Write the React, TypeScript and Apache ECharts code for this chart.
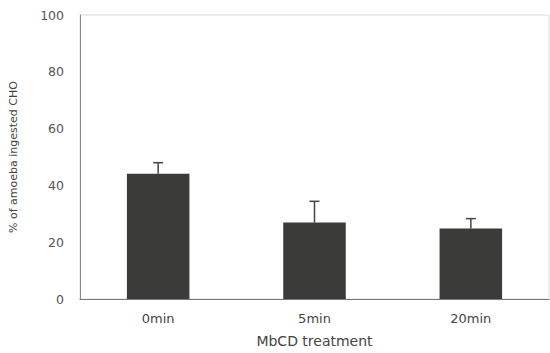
import React, { useEffect, useRef } from "react";
import * as echarts from "echarts";

const categories = ["0min", "5min", "20min"];
const values = [44.1, 26.9, 24.8];
const errorTops = [48.0, 34.4, 28.3];
const yTicks = [0, 20, 40, 60, 80, 100];

export default function App() {
  const ref = useRef<HTMLDivElement>(null);
  useEffect(() => {
    const chart = echarts.init(ref.current!, null, { renderer: "svg" });
    const font = "DejaVu Sans";
    chart.setOption({
      animation: false,
      backgroundColor: "#ffffff",
      grid: {
        left: 79,
        right: 1,
        top: 15,
        bottom: 52,
        show: true,
        borderColor: "#dcdcdc",
        borderWidth: 1,
        backgroundColor: "transparent",
      },
      xAxis: {
        type: "category",
        data: categories,
        name: "MbCD treatment",
        nameLocation: "middle",
        nameGap: 35,
        nameTextStyle: { fontFamily: font, fontSize: 14, color: "#444" },
        axisLine: { lineStyle: { color: "#777", width: 1 } },
        axisTick: { show: false },
        axisLabel: { fontFamily: font, fontSize: 13, color: "#444", margin: 13 },
      },
      yAxis: {
        type: "value",
        min: 0,
        max: 100,
        interval: 20,
        name: "% of amoeba ingested CHO",
        nameLocation: "middle",
        nameGap: 61,
        nameTextStyle: { fontFamily: font, fontSize: 11, color: "#444" },
        axisLine: { show: true, lineStyle: { color: "#888", width: 1 } },
        axisTick: { show: false },
        splitLine: { show: false },
        axisLabel: {
          fontFamily: font,
          fontSize: 12.5,
          color: "#555",
          margin: 16,
          formatter: (v: number) => (yTicks.includes(v) ? String(v) : ""),
        },
      },
      series: [
        {
          type: "bar",
          data: values,
          barWidth: "40%",
          itemStyle: { color: "#3b3b39" },
          z: 2,
        },
        {
          type: "custom",
          z: 1,
          data: categories.map((c, i) => [i, values[i], errorTops[i]]),
          renderItem: (params: any, api: any) => {
            const x = api.coord([api.value(0), 0])[0];
            const yLow = api.coord([api.value(0), api.value(1)])[1];
            const yHigh = api.coord([api.value(0), api.value(2)])[1];
            const style = { stroke: "#444", lineWidth: 1.5 };
            return {
              type: "group",
              children: [
                { type: "line", shape: { x1: x, y1: yLow, x2: x, y2: yHigh }, style },
                { type: "line", shape: { x1: x - 5, y1: yHigh, x2: x + 5, y2: yHigh }, style },
              ],
            };
          },
        },
      ],
    });
    return () => chart.dispose();
  }, []);
  return <div ref={ref} style={{ width: 550, height: 353, position: "absolute", left: 0, top: 0 }} />;
}
